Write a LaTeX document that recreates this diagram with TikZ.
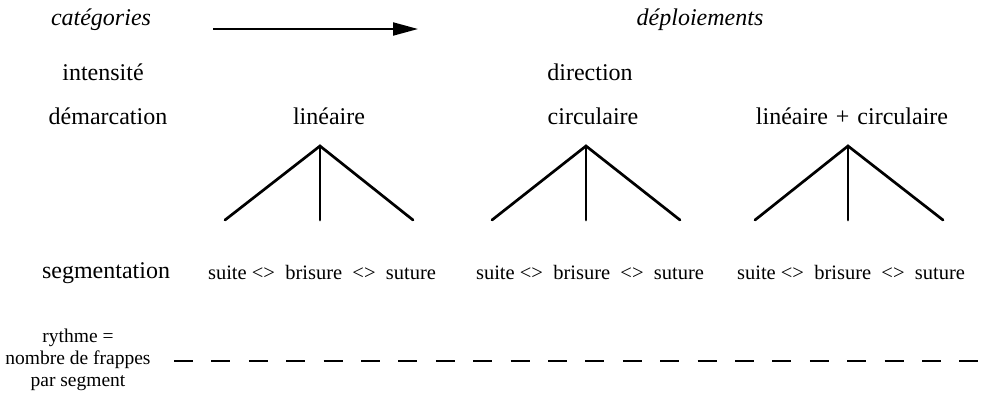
\documentclass[tikz,border=0pt]{standalone}
\usepackage{fontspec}
\setmainfont{Liberation Serif}
\usetikzlibrary{arrows.meta}
\begin{document}
\begin{tikzpicture}[x=1pt,y=-1pt,
  lbl/.style={anchor=base,inner sep=0pt,font=\fontsize{24}{28}\selectfont},
  ilbl/.style={lbl,font=\fontsize{24}{28}\selectfont\itshape},
  seg/.style={anchor=base,inner sep=0pt,font=\fontsize{20.5}{24}\selectfont},
  branch/.style={line width=2.7pt,line cap=round},
  flow/.style={line width=2pt,-{Triangle[length=25pt,width=13pt]}},
  rhythm/.style={line width=2.4pt,dash pattern=on 19pt off 18.4pt}]
\useasboundingbox (0,0) rectangle (985,397);
% header
\node[ilbl] (cat) at (101,25) {catégories};
\node[ilbl] (dep) at (700,25) {déploiements};
\coordinate (a0) at (213,29);
\coordinate (a1) at (418,29);
\draw[flow] (a0) -- (a1);
% rows
\node[lbl] (int) at (103,80) {intensité};
\node[lbl] (dir) at (590,80) {direction};
\node[lbl] (dem) at (108,124) {démarcation};
\node[lbl] (lin) at (329,124) {linéaire};
\node[lbl] (cir) at (593,124) {circulaire};
\node[lbl] (lc) at (852,124) {linéaire\,\,+\,\,circulaire};
% trees
\coordinate (t1) at (320,146); \coordinate (t1l) at (225,220);
\coordinate (t1m) at (320,220); \coordinate (t1r) at (413,220);
\coordinate (t2) at (586,146); \coordinate (t2l) at (492,220);
\coordinate (t2m) at (586,220); \coordinate (t2r) at (680,220);
\coordinate (t3) at (848,146); \coordinate (t3l) at (755,220);
\coordinate (t3m) at (848,220); \coordinate (t3r) at (943,220);
\foreach \t in {t1,t2,t3}{
  \draw[branch] (\t l) -- (\t) -- (\t r);
  \draw[branch] (\t) -- (\t m);
}
% segmentation
\node[lbl] (segm) at (106,278) {segmentation};
\node[seg] (s1) at (322,279) {suite <>\ \ brisure\ \ <>\ \ suture};
\node[seg] (s2) at (590,279) {suite <>\ \ brisure\ \ <>\ \ suture};
\node[seg] (s3) at (851,279) {suite <>\ \ brisure\ \ <>\ \ suture};
% rhythm
\node[anchor=base,inner sep=0pt,align=center,font=\fontsize{19.5}{22}\selectfont] (ry) at (78,386)
  {rythme =\\nombre de frappes\\par segment};
\coordinate (d0) at (174,361);
\coordinate (d1) at (982,361);
\draw[rhythm] (d0) -- (d1);
\end{tikzpicture}
\end{document}
